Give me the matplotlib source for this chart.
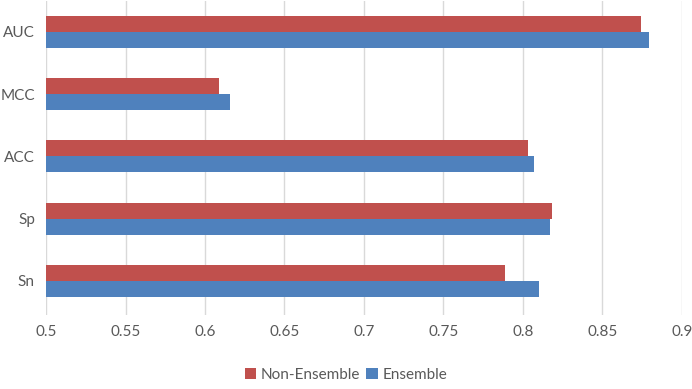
import matplotlib as mpl
import matplotlib.pyplot as plt
import numpy as np

mpl.rcParams.update({
    "font.family": ["Lato", "DejaVu Sans"],
    "font.size": 11,
})

RED = "#C0504D"
BLUE = "#4F81BD"
GRID = "#D9D9D9"
TEXT = "#595959"

metrics = ["Sn", "Sp", "ACC", "MCC", "AUC"]
non_ensemble = [0.789, 0.818, 0.803, 0.609, 0.874]
ensemble = [0.810, 0.817, 0.807, 0.616, 0.879]
xticks = [0.5, 0.55, 0.6, 0.65, 0.7, 0.75, 0.8, 0.85, 0.9]

fig = plt.figure(figsize=(6.92, 3.89), dpi=100, facecolor="white")
ax = fig.add_axes([0.0665, 0.19, 0.919, 0.808])

y = np.arange(len(metrics))
h = 0.256
ax.barh(y + h / 2, np.array(non_ensemble) - 0.5, left=0.5, height=h,
        color=RED, label="Non-Ensemble", zorder=3)
ax.barh(y - h / 2, np.array(ensemble) - 0.5, left=0.5, height=h,
        color=BLUE, label="Ensemble", zorder=3)

ax.set_xlim(0.5, 0.9)
ax.set_ylim(-0.55, len(metrics) - 0.5)
ax.set_xticks(xticks)
ax.set_xticklabels([f"{v:g}" for v in xticks])
ax.set_yticks(y)
ax.set_yticklabels(metrics)
ax.tick_params(length=0, colors=TEXT, labelsize=11)
ax.tick_params(axis="x", pad=7)
ax.tick_params(axis="y", pad=8)
ax.xaxis.grid(True, color=GRID, lw=1.0, zorder=0)
for s in ax.spines.values():
    s.set_visible(False)

ax.legend(loc="center", bbox_to_anchor=(0.5, 0.036), bbox_transform=fig.transFigure,
          ncol=2, frameon=False, handlelength=0.75, handleheight=0.75,
          handletextpad=0.3, columnspacing=0.4, fontsize=11, labelcolor=TEXT)

fig.savefig("out.png", dpi=100, facecolor="white")
